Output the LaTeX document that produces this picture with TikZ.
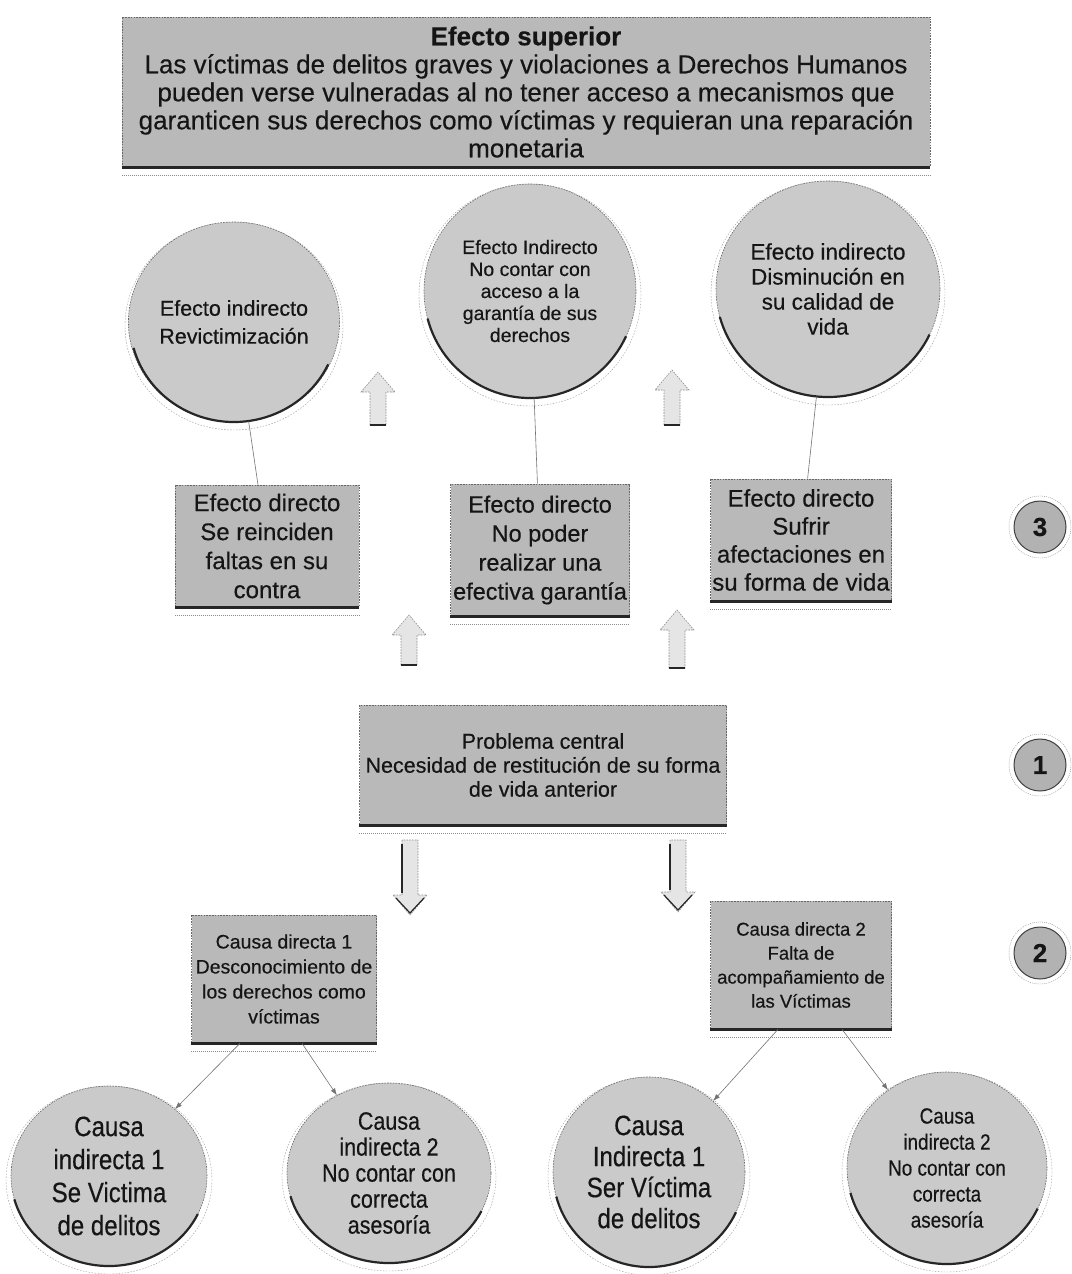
\documentclass[tikz,border=0pt]{standalone}
\usepackage{fontspec}
\setmainfont{Liberation Sans}[FakeBold=0.4]
\newfontfamily\narrowsans[FakeStretch=0.86,FakeBold=0.4]{Liberation Sans}
\usetikzlibrary{arrows.meta,calc,positioning,shapes.geometric}
\definecolor{ink}{HTML}{151515}
\definecolor{scan}{HTML}{CACACA}
\definecolor{scanbox}{HTML}{B9B9B9}
\definecolor{rimdark}{HTML}{262626}
\newcommand{\fsz}[2]{\fontsize{#1}{#2}\selectfont}
\tikzset{>=Latex,line width=.5pt,
  every node/.style={align=center,text=ink,inner sep=1pt},
  rim/.style={draw=black!60,dash pattern=on 1.6pt off 1.2pt,line width=.6pt},
  textbox/.style={rectangle,rim,fill=scanbox},
  bubble/.style={ellipse,rim,fill=scan,inner sep=0pt},
  link/.style={draw=black!55,line width=.6pt},
  cause/.style={link,->,>={Latex[length=7pt,width=5pt]}},
  blockarrow/.style={rim,draw=black!45,fill=black!10},
  badge/.style={circle,draw=black!75,line width=1pt,fill=black!30,minimum size=52,font=\bfseries\fsz{26}{26}}}

\begin{document}
\begin{tikzpicture}[x=1pt,y=-1pt]
\useasboundingbox (0,0) rectangle (1071,1274);
\fill[white] (0,0) rectangle (1071,1274);

% efecto superior
\node[textbox,minimum width=808,minimum height=150,font=\fsz{26}{28}] (sup) at (526,92)
  {{\bfseries Efecto superior}\\Las víctimas de delitos graves y violaciones a Derechos Humanos\\pueden verse vulneradas al no tener acceso a mecanismos que\\garanticen sus derechos como víctimas y requieran una reparación\\monetaria};

% efectos indirectos
\node[bubble,minimum width=208,minimum height=200,font=\fsz{21.5}{28}] (ei1) at (234,322) {Efecto indirecto\\Revictimización};
\node[bubble,minimum width=212,minimum height=214,font=\fsz{19.5}{22}] (ei2) at (530,291) {Efecto Indirecto\\No contar con\\acceso a la\\garantía de sus\\derechos};
\node[bubble,minimum width=224,minimum height=216,font=\fsz{22.5}{25}] (ei3) at (828,289) {Efecto indirecto\\Disminución en\\su calidad de\\vida};

% efectos directos
\node[textbox,minimum width=184,minimum height=122,font=\fsz{24}{29}] (ed1) at (267,546) {Efecto directo\\Se reinciden\\faltas en su\\contra};
\node[textbox,minimum width=179,minimum height=132,font=\fsz{23.5}{29}] (ed2) at (540,550) {Efecto directo\\No poder\\realizar una\\efectiva garantía};
\node[textbox,minimum width=181,minimum height=122,font=\fsz{24}{28}] (ed3) at (801,540) {Efecto directo\\Sufrir\\afectaciones en\\su forma de vida};

% problema central
\node[textbox,minimum width=367,minimum height=120,font=\fsz{21.5}{24}] (pc) at (543,765) {Problema central\\Necesidad de restitución de su forma\\de vida anterior};

% causas directas
\node[textbox,minimum width=185,minimum height=128,font=\fsz{19.5}{25}] (cd1) at (284,979) {Causa directa 1\\Desconocimiento de\\los derechos como\\víctimas};
\node[textbox,minimum width=181,minimum height=128,font=\fsz{18.5}{24}] (cd2) at (801,965) {Causa directa 2\\Falta de\\acompañamiento de\\las Víctimas};

% causas indirectas
\node[bubble,minimum width=196,minimum height=180,font=\narrowsans\fsz{28}{33}] (ci1) at (109,1176) {Causa\\indirecta 1\\Se Victima\\de delitos};
\node[bubble,minimum width=204,minimum height=180,font=\narrowsans\fsz{25}{26}] (ci2) at (389,1173) {Causa\\indirecta 2\\No contar con\\correcta\\asesoría};
\node[bubble,minimum width=192,minimum height=190,font=\narrowsans\fsz{28}{31}] (ci3) at (649,1172) {Causa\\Indirecta 1\\Ser Víctima\\de delitos};
\node[bubble,minimum width=200,minimum height=192,font=\narrowsans\fsz{22}{26}] (ci4) at (947,1168) {Causa\\indirecta 2\\No contar con\\correcta\\asesoría};

% numeros
\foreach \n/\y in {3/527,1/765,2/953}{
  \node[badge] (num\n) at (1040,\y) {\n};
  \draw[black!45,dash pattern=on 1pt off 1pt] (num\n.center) circle[radius=31];}

% sombras
\foreach \n in {sup,ed1,ed2,ed3,pc,cd1,cd2}{
  \draw[rimdark,line width=2.4pt] (\n.south west) -- (\n.south east);
  \draw[black!45,dash pattern=on 1pt off 1pt] ([yshift=-8pt]\n.south west) -- ([yshift=-8pt]\n.south east);}
\foreach \n/\rx/\ry in {ei1/104/100,ei2/106/107,ei3/112/108,ci1/98/90,ci2/102/90,ci3/96/95,ci4/100/96}{
  \draw[rimdark,line width=2.2pt,shift={(\n.center)},x=1pt,y=1pt] ({\rx*cos(195)},{\ry*sin(195)}) arc[start angle=195,end angle=335,x radius=\rx,y radius=\ry];
  \draw[black!40,dash pattern=on 1.5pt off 1.5pt,shift={(\n.center)},x=1pt,y=1pt] (0,-4) ellipse[x radius={\rx+5},y radius={\ry+4}];}

% conexiones
\draw[link] (ei1) -- (ed1);
\draw[link] (ei2) -- (ed2);
\draw[link] (ei3) -- (ed3);
\draw[cause] ($(cd1.south)+(-44,0)$) -- (ci1);
\draw[cause] ($(cd1.south)+(18,0)$) -- (ci2);
\draw[cause] ($(cd2.south)+(-23,0)$) -- (ci3);
\draw[cause] ($(cd2.south)+(41,0)$) -- (ci4);

% flechas de bloque
\foreach \x/\t/\b in {378/372/425,672/370/425,409/615/665,677/610/668}{
  \draw[blockarrow] ({\x-8},\b) -- ({\x-8},{\t+20}) -- ({\x-17},{\t+20}) -- (\x,\t) -- ({\x+17},{\t+20}) -- ({\x+8},{\t+20}) -- ({\x+8},\b) -- cycle;
  \draw[rimdark,line width=1.8pt] ({\x-8},\b) -- ({\x+8},\b);}
\foreach \x/\t/\b in {410/840/915,678/840/912}{
  \draw[blockarrow] ({\x-8},\t) -- ({\x-8},{\b-20}) -- ({\x-17},{\b-20}) -- (\x,\b) -- ({\x+17},{\b-20}) -- ({\x+8},{\b-20}) -- ({\x+8},\t) -- cycle;
  \draw[rimdark,line width=1.2pt] ({\x-8},{\t+4}) -- ({\x-8},{\b-22});
  \draw[rimdark,line width=1.2pt] ({\x-14},{\b-17}) -- (\x,{\b-2}) -- ({\x+14},{\b-17});}
\end{tikzpicture}
\end{document}
